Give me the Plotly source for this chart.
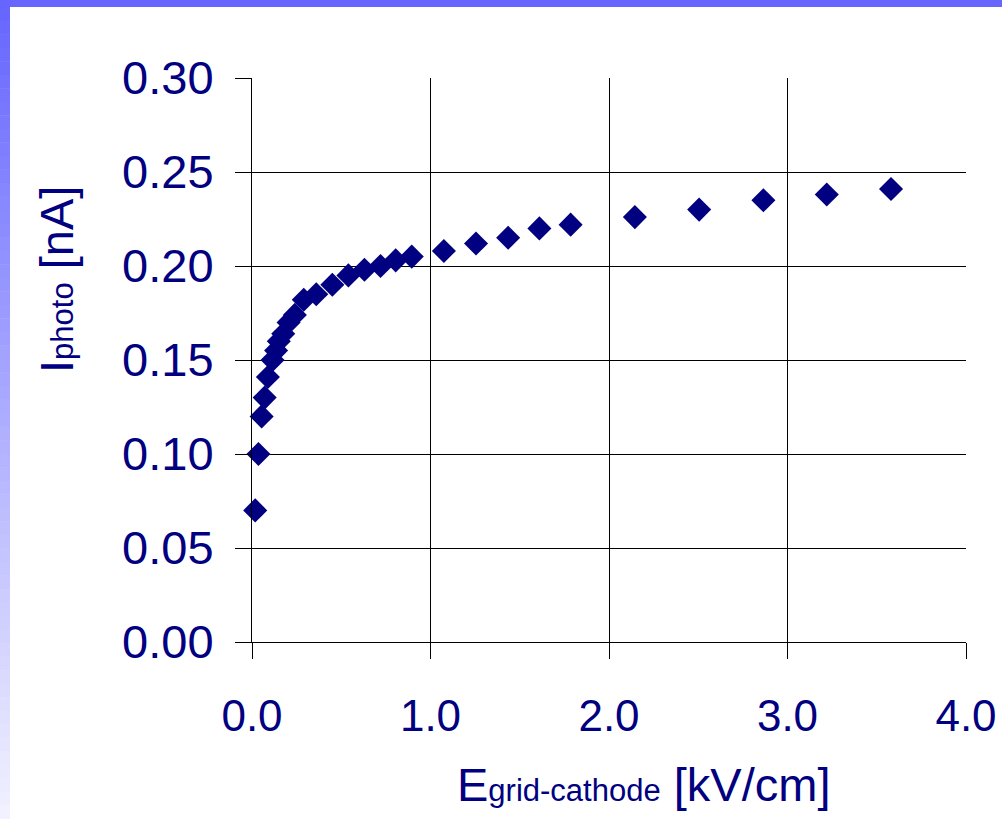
import plotly.graph_objects as go

# Data
e_field = [0.018, 0.036, 0.054, 0.071, 0.089, 0.115, 0.135, 0.150, 0.175, 0.205,
           0.240, 0.290, 0.360, 0.450, 0.540, 0.630, 0.720, 0.805, 0.895, 1.075,
           1.255, 1.435, 1.610, 1.785, 2.145, 2.505, 2.865, 3.220, 3.580]
i_photo = [0.070, 0.100, 0.120, 0.130, 0.141, 0.150, 0.155, 0.160, 0.164, 0.170,
           0.174, 0.182, 0.185, 0.190, 0.195, 0.198, 0.200, 0.203, 0.205, 0.208,
           0.212, 0.215, 0.220, 0.222, 0.226, 0.230, 0.235, 0.238, 0.241]

W, H = 1002, 819
L, R, T, B = 252, 36, 78, 177
PW, PH = W - L - R, H - T - B
NAVY = "#000080"
FONT = "Liberation Sans, Arial, sans-serif"


def px_x(px):
    return (px - L) / PW


def px_y(py):
    return (H - B - py) / PH


fig = go.Figure()
fig.add_trace(go.Scatter(
    x=e_field, y=i_photo, mode="markers",
    marker=dict(symbol="diamond", size=18.5, color=NAVY, line=dict(width=0)),
    showlegend=False, cliponaxis=False,
))

shapes = []
# top band
shapes.append(dict(type="rect", xref="paper", yref="paper", layer="above",
                   x0=px_x(0), x1=px_x(W), y0=px_y(7), y1=px_y(0),
                   fillcolor="#6666ff", line=dict(width=0)))
# left gradient band
n = 60
top, bot = (102, 102, 255), (242, 242, 255)
for k in range(n):
    y0p = 7 + (H - 7) * k / n
    y1p = 7 + (H - 7) * (k + 1) / n
    t = (k + 0.5) / n
    c = tuple(round(top[i] + (bot[i] - top[i]) * t) for i in range(3))
    shapes.append(dict(type="rect", xref="paper", yref="paper", layer="above",
                       x0=px_x(0), x1=px_x(10), y0=px_y(y1p + 0.5), y1=px_y(y0p),
                       fillcolor="rgb(%d,%d,%d)" % c, line=dict(width=0)))

annotations = [
    dict(xref="paper", yref="paper", x=px_x(643), y=px_y(784),
         xanchor="center", yanchor="middle", showarrow=False,
         text='E<span style="font-size:31px">grid-cathode</span> [kV/cm]',
         font=dict(family=FONT, size=47, color=NAVY)),
    dict(xref="paper", yref="paper", x=px_x(56), y=px_y(279),
         xanchor="center", yanchor="middle", showarrow=False, textangle=-90,
         text='I<span style="font-size:31px">photo</span> [nA]',
         font=dict(family=FONT, size=47, color=NAVY)),
]

fig.update_layout(
    width=W, height=H,
    margin=dict(l=L, r=R, t=T, b=B, pad=0, autoexpand=False),
    paper_bgcolor="white", plot_bgcolor="white",
    font=dict(family=FONT, color=NAVY, size=46),
    shapes=shapes, annotations=annotations,
    xaxis=dict(range=[0, 4.0], dtick=1.0, tick0=0, tickformat=".1f",
               automargin=False,
               showgrid=True, gridcolor="black", gridwidth=1,
               showline=True, linecolor="black", linewidth=1,
               ticks="outside", ticklen=16, tickcolor="black", tickwidth=1,
               zeroline=False, ticklabelstandoff=19,
               tickfont=dict(family=FONT, size=44, color=NAVY)),
    yaxis=dict(range=[0, 0.30], dtick=0.05, tick0=0, tickformat=".2f",
               automargin=False,
               showgrid=True, gridcolor="black", gridwidth=1,
               showline=True, linecolor="black", linewidth=1,
               ticks="outside", ticklen=16, tickcolor="black", tickwidth=1,
               zeroline=False, ticklabelstandoff=12,
               tickfont=dict(family=FONT, size=47, color=NAVY)),
)

fig.write_html("out.html", config={"displayModeBar": False},
               post_script="document.body.style.margin='0';document.body.style.overflow='hidden';")
